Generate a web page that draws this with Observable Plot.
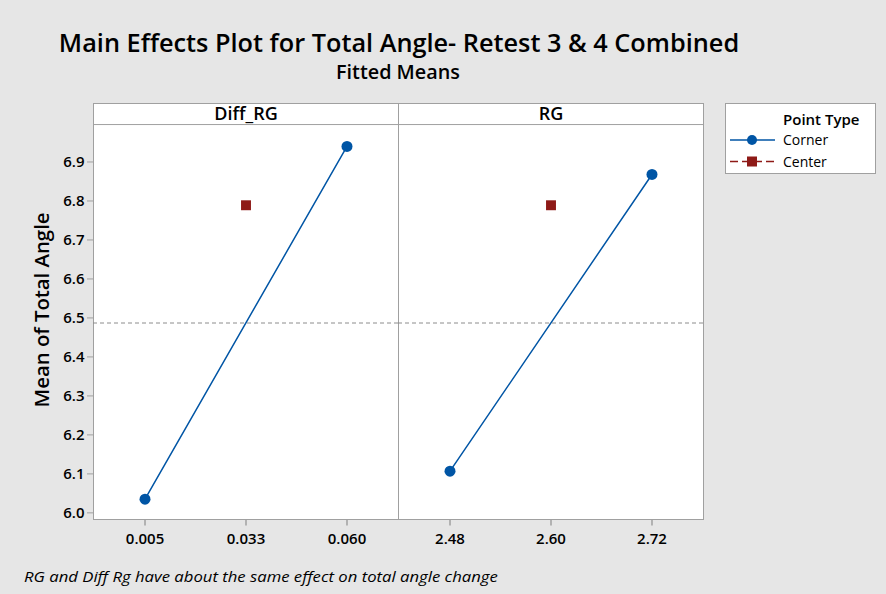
<!DOCTYPE html>
<html><head><meta charset="utf-8">
<script src="https://cdn.jsdelivr.net/npm/d3@7"></script>
<script src="https://cdn.jsdelivr.net/npm/@observablehq/plot@0.6"></script>
<style>
body{margin:0;background:#e6e6e6;}
#wrap{position:relative;width:886px;height:594px;overflow:hidden;font-family:"Open Sans",sans-serif;color:#000;}
.abs{position:absolute;white-space:nowrap;line-height:1;}
</style></head><body>
<div id="wrap">
  <div id="chart" class="abs" style="left:0;top:0"></div>
  <div id="title" class="abs" style="left:398.5px;top:29px;font-size:26px;font-weight:600;">Main Effects Plot for Total Angle- Retest 3 &amp; 4 Combined</div>
  <div id="subtitle" class="abs" style="left:398px;top:63px;font-size:19px;font-weight:600;">Fitted Means</div>
  <div id="ylabel" class="abs" style="left:42px;top:310px;font-size:20px;font-weight:600;">Mean of Total Angle</div>
  <div id="caption" class="abs" style="left:24px;top:569px;font-size:15px;font-style:italic;">RG and Diff Rg have about the same effect on total angle change</div>
  <div id="legend" class="abs" style="left:725px;top:103px;"></div>
</div>
<script>
// ---- data ----
const factors = ["Diff_RG", "RG"];
const levelLabels = {Diff_RG: ["0.005", "0.033", "0.060"], RG: ["2.48", "2.60", "2.72"]};
const cornerLow = [6.035, 6.107];   // mean at low level (Diff_RG, RG)
const cornerHigh = [6.940, 6.868];  // mean at high level
const centerMean = [6.789, 6.789];  // center point mean
const grandMean = 6.487;
const yTicks = [6.0, 6.1, 6.2, 6.3, 6.4, 6.5, 6.6, 6.7, 6.8, 6.9];
const pointTypes = ["Corner", "Center"];

const blue = "#0055a5", red = "#8e1a17", gray = "#a0a0a0";

// ---- tables built from arrays ----
const corner = factors.flatMap((f, k) => [
  {f, i: 0, v: cornerLow[k]},
  {f, i: 2, v: cornerHigh[k]}
]);
const center = factors.map((f, k) => ({f, i: 1, v: centerMean[k]}));
const xTickTable = factors.flatMap(f => levelLabels[f].map((label, i) => ({f, i, label})));

const yBottom = 5.983, yDataTop = 6.996, yHeaderTop = 7.05;
const tickSym = {draw(ctx) { ctx.moveTo(0, 0); ctx.lineTo(0, 6); }};

const chart = Plot.plot({
  width: 886, height: 594,
  marginTop: 103, marginBottom: 75, marginLeft: 93, marginRight: 183,
  style: {background: "transparent", fontFamily: "'Open Sans', sans-serif", fontSize: "15px", color: "#000", overflow: "visible"},
  fx: {domain: factors, padding: 0, axis: null},
  x: {domain: [-0.51, 2.51], axis: null},
  y: {domain: [yBottom, yHeaderTop], axis: null},
  marks: [
    Plot.frame({fill: "white", stroke: gray}),
    Plot.ruleY([yDataTop], {stroke: gray}),
    Plot.ruleY([grandMean], {stroke: "#8c8c8c", strokeDasharray: "4,3"}),
    Plot.text(factors, {fx: d => d, text: d => d, frameAnchor: "top", lineAnchor: "middle", dy: 11, fontSize: 18, fontWeight: 600}),
    Plot.axisY({ticks: yTicks, tickFormat: ".1f", tickSize: 6, tickPadding: 3, stroke: gray, fill: "#000", fontSize: 15, fontWeight: 600, label: null}),
    Plot.dot(xTickTable, {x: "i", fx: "f", frameAnchor: "bottom", symbol: tickSym, stroke: gray, fill: "none", r: 3}),
    Plot.text(xTickTable, {x: "i", fx: "f", text: "label", frameAnchor: "bottom", lineAnchor: "middle", dy: 20, fontSize: 15, fontWeight: 600}),
    Plot.line(corner, {x: "i", y: "v", fx: "f", stroke: blue, strokeWidth: 1.5}),
    Plot.dot(corner, {x: "i", y: "v", fx: "f", r: 5.5, fill: blue}),
    Plot.dot(center, {x: "i", y: "v", fx: "f", symbol: "square", r: 5.6, fill: red})
  ]
});
document.getElementById("chart").appendChild(chart);

// legend
const lg = d3.create("svg").attr("width", 151).attr("height", 72)
  .style("font-family", "'Open Sans', sans-serif").style("overflow", "visible");
lg.append("rect").attr("x", 0.5).attr("y", 0.5).attr("width", 150).attr("height", 70)
  .attr("fill", "white").attr("stroke", gray);
lg.append("text").attr("x", 58).attr("y", 22).attr("font-size", 15).attr("font-weight", 600).text("Point Type");
const rows = [{y: 37, color: blue, dash: null, sym: "circle"}, {y: 58.5, color: red, dash: "8,4", sym: "square"}];
rows.forEach((r, k) => {
  lg.append("line").attr("x1", 5).attr("x2", 50).attr("y1", r.y).attr("y2", r.y)
    .attr("stroke", r.color).attr("stroke-width", 1.5).attr("stroke-dasharray", r.dash);
  if (r.sym === "circle") lg.append("circle").attr("cx", 27).attr("cy", r.y).attr("r", 5).attr("fill", r.color);
  else lg.append("rect").attr("x", 22).attr("y", r.y - 5).attr("width", 10).attr("height", 10).attr("fill", r.color);
  lg.append("text").attr("x", 58).attr("y", r.y + 5).attr("font-size", 14).attr("font-weight", 500).text(pointTypes[k]);
});
document.getElementById("legend").appendChild(lg.node());

// fit text widths to the reference
function fit(id, target, center, rotate) {
  const el = document.getElementById(id);
  const w = el.offsetWidth;
  const s = target / w;
  if (rotate) el.style.transform = `translate(-50%,-50%) rotate(-90deg) scaleX(${s})`;
  else if (center) el.style.transform = `translateX(-50%) scaleX(${s})`;
  else { el.style.transformOrigin = "0 0"; el.style.transform = `scaleX(${s})`; }
}
fit("title", 680, true);
fit("subtitle", 124, true);
fit("caption", 474, false);
fit("ylabel", 195, false, true);
</script>
</body></html>
